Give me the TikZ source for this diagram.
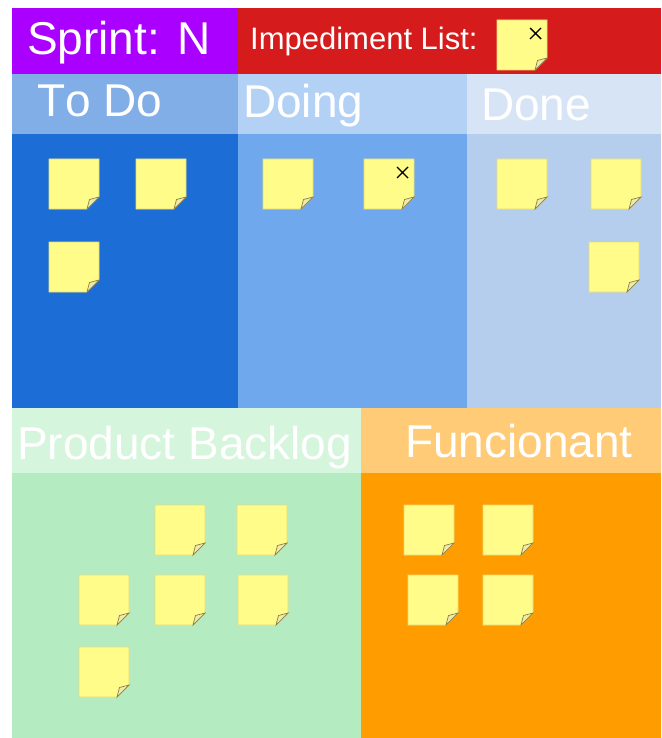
\documentclass[tikz,border=0pt]{standalone}
\usepackage{fontspec}
\setmainfont[Kerning=Off]{Liberation Sans}
\definecolor{sprintc}{HTML}{AA00FF}
\definecolor{impc}{HTML}{D51B1B}
\definecolor{todoh}{HTML}{82AEE8}
\definecolor{todob}{HTML}{1C6ED6}
\definecolor{doingh}{HTML}{B3D1F5}
\definecolor{doingb}{HTML}{6FA8EC}
\definecolor{doneh}{HTML}{D6E4F5}
\definecolor{doneb}{HTML}{B5CEEE}
\definecolor{pbh}{HTML}{D6F5DD}
\definecolor{pbb}{HTML}{B5EBC1}
\definecolor{funch}{HTML}{FFCB77}
\definecolor{funcb}{HTML}{FF9C00}
\definecolor{notefill}{HTML}{FFFC8A}
\definecolor{noteedge}{HTML}{E6DC78}
\definecolor{foldfill}{HTML}{EFEAA8}
\definecolor{folddark}{HTML}{8A8048}
\tikzset{
  area/.style={draw=none},
  bigtxt/.style={text=white, inner sep=0pt, anchor=base west, font=\fontsize{46}{50}\selectfont},
  smalltxt/.style={text=white, inner sep=0pt, anchor=base west, font=\fontsize{31}{34}\selectfont},
  note/.pic={
    \fill[notefill, draw=noteedge, line width=0.7pt] (0,0) -- (50,0) -- (50,38) -- (38,50) -- (0,50) -- cycle;
    \fill[foldfill, draw=folddark, line width=0.7pt] (38,50) -- (40.5,40.5) -- (50,38) -- cycle;
  },
  xnote/.pic={
    \pic {note};
    \draw[black, line width=1.4pt] (33,8) -- (44,19) (44,8) -- (33,19);
  }
}
\begin{document}
\begin{tikzpicture}[x=1pt, y=-1pt]
\useasboundingbox (0,0) rectangle (661,738);
\fill[white] (0,0) rectangle (661,738);
% top header
\fill[sprintc] (12,8) rectangle (238,74);
\fill[impc] (238,8) rectangle (661,74);
% column headers
\fill[todoh] (12,74) rectangle (238,134);
\fill[doingh] (238,74) rectangle (467,134);
\fill[doneh] (467,74) rectangle (661,134);
% column bodies
\fill[todob] (12,134) rectangle (238,408);
\fill[doingb] (238,134) rectangle (467,408);
\fill[doneb] (467,134) rectangle (661,408);
% bottom headers
\fill[pbh] (12,408) rectangle (361,473);
\fill[funch] (361,408) rectangle (661,473);
% bottom bodies
\fill[pbb] (12,473) rectangle (361,738);
\fill[funcb] (361,473) rectangle (661,738);
% texts
\node[bigtxt] (sprint) at (27,55) {Sprint: N};
\node[smalltxt] (imp) at (250,50) {Impediment List:};
\node[bigtxt] (todo) at (37,117) {To Do};
\node[bigtxt] (doing) at (243,118) {Doing};
\node[bigtxt] (done) at (481,121) {Done};
\node[bigtxt] (pb) at (17,459) {Product Backlog};
\node[bigtxt] (func) at (405,457) {Funcionant};
% impediment note
\pic at (497,20) {xnote};
% to do
\pic at (49,159) {note};
\pic at (136,159) {note};
\pic at (49,242) {note};
% doing
\pic at (263,159) {note};
\pic at (364,159) {xnote};
% done
\pic at (497,159) {note};
\pic at (591,159) {note};
\pic at (589,242) {note};
% product backlog
\pic at (155,505) {note};
\pic at (237,505) {note};
\pic at (79,575) {note};
\pic at (155,575) {note};
\pic at (238,575) {note};
\pic at (79,647) {note};
% funcionant
\pic at (404,505) {note};
\pic at (483,505) {note};
\pic at (408,575) {note};
\pic at (483,575) {note};
\end{tikzpicture}
\end{document}
